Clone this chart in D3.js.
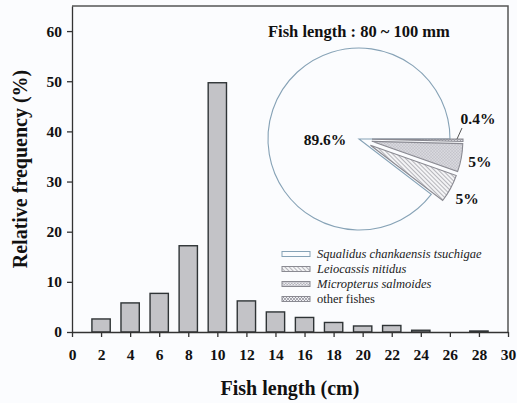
<!DOCTYPE html>
<html lang="en">
<head>
<meta charset="utf-8">
<title>Fish length frequency</title>
<script src="https://cdn.jsdelivr.net/npm/d3@7"></script>
<style>
  html, body { margin: 0; padding: 0; background: #fbfcfe; }
  svg { display: block; font-family: "Liberation Serif", "Times New Roman", serif; }
  .tick text { font-weight: bold; font-size: 15.5px; fill: #111; }
  .axis path, .axis line { stroke: #333; stroke-width: 1.3; }
</style>
</head>
<body>
<script>
// length classes (cm) and relative frequency (%)
var lengths = [2, 4, 6, 8, 10, 12, 14, 16, 18, 20, 22, 24, 26, 28];
var freq = [2.6, 5.8, 7.7, 17.2, 49.7, 6.2, 4.0, 2.9, 1.9, 1.2, 1.3, 0.35, 0, 0.2];
var xTicks = d3.range(0, 31, 2);
var yTicks = [0, 10, 20, 30, 40, 50, 60];

// pie inset: diet composition, fish length 80 ~ 100 mm
var species = ["Squalidus chankaensis tsuchigae", "Leiocassis nitidus", "Micropterus salmoides", "other fishes"];
var share = [89.6, 5, 5, 0.4];
var shareLabels = ["89.6%", "5%", "5%", "0.4%"];

var W = 517, H = 403;
var serif = "Liberation Serif";
var svg = d3.select("body").append("svg").attr("width", W).attr("height", H)
    .attr("font-family", serif);

// patterns for the pie slices
var defs = svg.append("defs");
var diag = defs.append("pattern").attr("id", "diag")
    .attr("patternUnits", "userSpaceOnUse").attr("width", 3).attr("height", 3)
    .attr("patternTransform", "rotate(-45)");
diag.append("rect").attr("width", 3).attr("height", 3).attr("fill", "#f4f4f6");
diag.append("line").attr("x1", 0).attr("y1", 0).attr("x2", 0).attr("y2", 3)
    .attr("stroke", "#808088").attr("stroke-width", 1.1);
var cross = defs.append("pattern").attr("id", "cross")
    .attr("patternUnits", "userSpaceOnUse").attr("width", 3).attr("height", 3);
cross.append("rect").attr("width", 3).attr("height", 3).attr("fill", "#b4b4bc");
cross.append("rect").attr("width", 1.5).attr("height", 1.5).attr("fill", "#ececf0");
cross.append("rect").attr("x", 1.5).attr("y", 1.5).attr("width", 1.5).attr("height", 1.5).attr("fill", "#ececf0");
var cross2 = defs.append("pattern").attr("id", "cross2")
    .attr("patternUnits", "userSpaceOnUse").attr("width", 3).attr("height", 3);
cross2.append("rect").attr("width", 3).attr("height", 3).attr("fill", "#eeeef2");
cross2.append("path").attr("d", "M0,0L3,3M3,0L0,3").attr("stroke", "#8a8a94").attr("stroke-width", 0.7);
var fills = ["#fbfcfe", "url(#diag)", "url(#cross)", "url(#cross2)"];

var x = d3.scaleLinear().domain([0, 30]).range([72, 508]);
var y = d3.scaleLinear().domain([0, 65]).range([332, 6]);

// frame (top and right)
svg.append("path")
    .attr("d", "M" + x(0) + "," + y(65) + "H" + x(30) + "V" + y(0))
    .attr("fill", "none").attr("stroke", "#555").attr("stroke-width", 1.5);

// bars
var bw = 1.26;
svg.selectAll("rect.bar")
  .data(lengths.map(function (d, i) { return { l: d, v: freq[i] }; }).filter(function (d) { return d.v > 0; }))
  .enter().append("rect")
    .attr("class", "bar")
    .attr("x", function (d) { return x(d.l - bw / 2); })
    .attr("width", x(bw) - x(0))
    .attr("y", function (d) { return y(d.v); })
    .attr("height", function (d) { return y(0) - y(d.v); })
    .attr("fill", "#c3c3c7")
    .attr("stroke", "#2f3436")
    .attr("stroke-width", 1.4);

// axes
svg.append("g").attr("class", "axis")
    .attr("transform", "translate(0," + y(0) + ")")
    .call(d3.axisBottom(x).tickValues(xTicks).tickSize(5).tickPadding(12).tickSizeOuter(0))
    .attr("font-family", serif);
svg.append("g").attr("class", "axis")
    .attr("transform", "translate(" + x(0) + ",0)")
    .call(d3.axisLeft(y).tickValues(yTicks).tickSize(5).tickPadding(5).tickSizeOuter(0))
    .attr("font-family", serif);
svg.selectAll(".axis .domain").attr("stroke", "#333");

// axis titles
svg.append("text")
    .attr("x", x(15)).attr("y", 395)
    .attr("text-anchor", "middle")
    .attr("font-size", 20).attr("font-weight", "bold").attr("fill", "#111")
    .text("Fish length (cm)");
svg.append("text")
    .attr("transform", "translate(27,169) rotate(-90)")
    .attr("text-anchor", "middle")
    .attr("font-size", 20).attr("font-weight", "bold").attr("fill", "#111")
    .text("Relative frequency (%)");

// pie inset
var cx = 359, cy = 139, r = 91, explode = 13;
svg.append("text")
    .attr("x", 268).attr("y", 37)
    .attr("font-size", 16.5).attr("font-weight", "bold").attr("fill", "#111")
    .text("Fish length : 80 ~ 100 mm");

// counter-clockwise from 3 o'clock in legend order
var pie = d3.pie().sort(null).value(function (d) { return d; })
    .startAngle(Math.PI / 2 + 2 * Math.PI).endAngle(Math.PI / 2);
var arcs = pie(share);
var arc = d3.arc().innerRadius(0).outerRadius(r);
var g = svg.append("g").attr("transform", "translate(" + cx + "," + cy + ")");
g.selectAll("path")
  .data(arcs)
  .enter().append("path")
    .attr("d", arc)
    .attr("transform", function (d, i) {
      if (i === 0) return null;
      var a = (d.startAngle + d.endAngle) / 2;
      return "translate(" + (explode * Math.sin(a)) + "," + (-explode * Math.cos(a)) + ")";
    })
    .attr("fill", function (d, i) { return fills[i]; })
    .attr("stroke", function (d, i) { return i === 0 ? "#86a2b6" : "#8a8a92"; })
    .attr("stroke-width", 1.1);

// slice labels
g.selectAll("text.pl")
  .data(arcs)
  .enter().append("text")
    .attr("class", "pl")
    .attr("text-anchor", "middle")
    .attr("font-size", 15.5).attr("font-weight", "bold").attr("fill", "#111")
    .attr("x", function (d, i) {
      if (i === 0) return -34;
      if (i === 3) return 119;
      var a = (d.startAngle + d.endAngle) / 2;
      return (r + 32) * Math.sin(a);
    })
    .attr("y", function (d, i) {
      if (i === 0) return 6;
      if (i === 3) return -15;
      var a = (d.startAngle + d.endAngle) / 2;
      return -(r + 32) * Math.cos(a) + 6;
    })
    .text(function (d, i) { return shareLabels[i]; });
// leader for the 0.4% slice
g.append("path").attr("d", "M103,-11L98,0").attr("stroke", "#555").attr("stroke-width", 1).attr("fill", "none");

// legend
var lg = svg.append("g").attr("transform", "translate(282,254)");
var item = lg.selectAll("g").data(species).enter().append("g")
    .attr("transform", function (d, i) { return "translate(0," + (i * 15) + ")"; });
item.append("rect")
    .attr("x", 0).attr("y", -2.5).attr("width", 28).attr("height", 5)
    .attr("fill", function (d, i) { return fills[i]; })
    .attr("stroke", function (d, i) { return i === 0 ? "#86a2b6" : "#8a8a92"; })
    .attr("stroke-width", 1);
item.append("text")
    .attr("x", 35).attr("y", 4)
    .attr("font-size", 12.5)
    .attr("font-style", function (d, i) { return i < 3 ? "italic" : "normal"; })
    .attr("fill", "#222")
    .text(function (d) { return d; });
</script>
</body>
</html>
